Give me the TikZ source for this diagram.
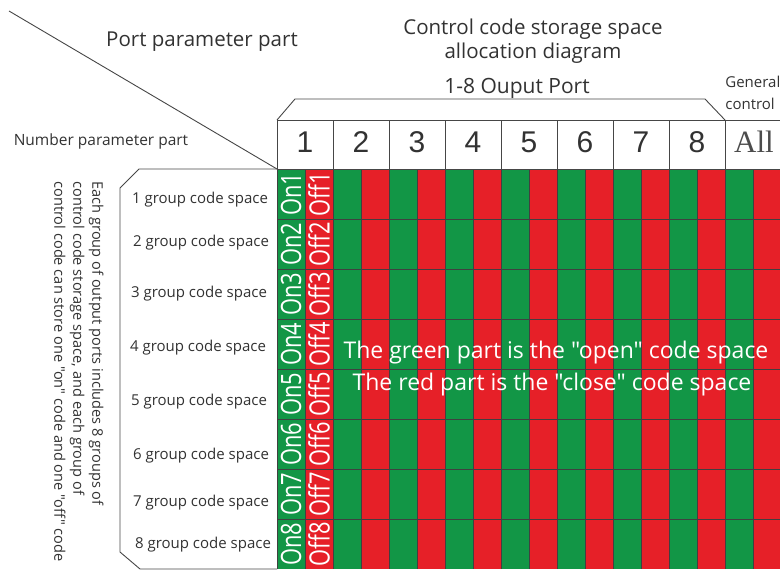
\documentclass[tikz,border=0pt]{standalone}
\usepackage{fontspec}
\setmainfont[Ligatures=TeXOff]{Open Sans}
\newfontfamily\digitfont{Liberation Sans}
\newfontfamily\allfont{Liberation Serif}
\newfontfamily\cellfont[FakeStretch=0.78]{Open Sans}
\begin{document}
\begin{tikzpicture}[x=1pt,y=-1pt,line width=0.8pt]
\definecolor{cellgreen}{RGB}{18,150,70}
\definecolor{cellred}{RGB}{230,32,40}
\definecolor{inkgrey}{RGB}{50,50,50}
\definecolor{linegrey}{RGB}{70,70,70}
\providecommand{\fpx}[2]{\fontsize{#1}{#2}\selectfont}
\tikzset{label/.style={inner sep=0pt,text=inkgrey},outline/.style={draw=linegrey,line width=0.9pt},codetext/.style={inner sep=0pt,rotate=90,text=white,font=\cellfont\fpx{28}{28}},gridline/.style={draw=black!75,line width=0.5pt},grouptext/.style={label,font=\fpx{15}{15}}}
\useasboundingbox (0,0) rectangle (780,571);
% code cells: green "on" half, red "off" half
\foreach \c in {0,...,8}{
  \fill[cellgreen] (277+56*\c,169) rectangle (305+56*\c,569);
  \fill[cellred] (305+56*\c,169) rectangle (333+56*\c,569);
}
\foreach \c in {0,...,17}
  \draw[gridline] (277+28*\c,169) -- (277+28*\c,569);
\foreach \r in {1,...,7}
  \draw[gridline] (277,169+50*\r) -- (781,169+50*\r);
\foreach \r in {1,...,8}{
  \node[codetext] (on\r) at (291,144+50*\r) {On\r};
  \node[codetext] (off\r) at (319,144+50*\r) {Off\r};
}
% port header
\draw[outline] (277,120) rectangle (781,169);
\foreach \c in {1,...,8}
  \draw[outline] (277+56*\c,120) -- (277+56*\c,169);
\foreach \c in {1,...,8}
  \node[label,font=\digitfont\fpx{30}{30}] (port\c) at (249+56*\c,142) {\c};
\node[label,font=\allfont\fpx{31}{31},text=black!70] (portall) at (754,142) {All};
\draw[outline] (277,120) -- (295,99) -- (705,99) -- (725,120);
\node[label,font=\fpx{21}{24}] (portrange) at (517,88) {1-8 Ouput Port};
\node[label,font=\fpx{15}{22},anchor=west,align=left] (general) at (725,93) {General\\control};
% group box
\draw[outline] (277,169) -- (139,169) -- (120,188) -- (120,552) -- (140,569) -- (277,569);
\draw[outline] (9,11) -- (277,169);
\node[grouptext] (grp1) at (200,200) {1 group code space};
\node[grouptext] (grp2) at (201,243) {2 group code space};
\node[grouptext] (grp3) at (199,294) {3 group code space};
\node[grouptext] (grp4) at (198,348) {4 group code space};
\node[grouptext] (grp5) at (199,402) {5 group code space};
\node[grouptext] (grp6) at (201,456) {6 group code space};
\node[grouptext] (grp7) at (201,503) {7 group code space};
\node[grouptext] (grp8) at (203,545) {8 group code space};
% titles and notes
\node[label,font=\fpx{20.5}{24}] (portpart) at (202,42) {Port parameter part};
\node[label,font=\fpx{15.5}{18}] (numpart) at (101,141) {Number parameter part};
\node[label,font=\fpx{20.5}{24},align=center] (title) at (533,41) {Control code storage space\\allocation diagram};
\node[label,font=\fpx{14.6}{19},rotate=-90,anchor=north west,align=left] (note) at (104,181) {Each group of output ports includes 8 groups of\\control code storage space, and each group of\\control code can store one "on" code and one "off" code};
\node[inner sep=0pt,text=white,font=\fpx{23}{23}] (greennote) at (556,353) {The green part is the "open" code space};
\node[inner sep=0pt,text=white,font=\fpx{23}{23}] (rednote) at (552,385) {The red part is the "close" code space};
\end{tikzpicture}
\end{document}
